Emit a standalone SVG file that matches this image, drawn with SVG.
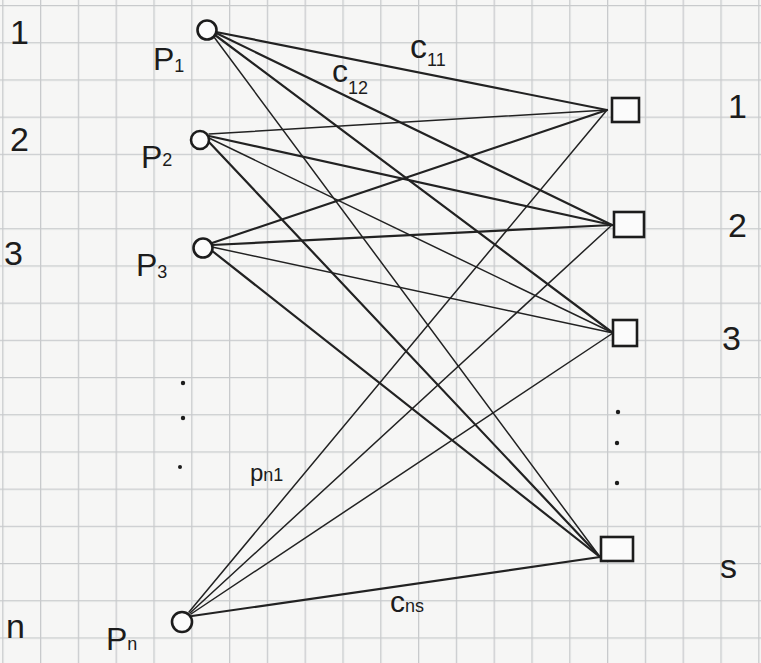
<svg xmlns="http://www.w3.org/2000/svg" width="761" height="663" viewBox="0 0 761 663">
<defs>
<pattern id="grid" x="2.2" y="5" width="37.8" height="37.2" patternUnits="userSpaceOnUse">
<path d="M0 0H37.8M0 0V37.2" fill="none" stroke="#c8cacc" stroke-width="2.6"/>
</pattern>
</defs>
<style>
.hand{font-family:"Liberation Sans","DejaVu Sans",sans-serif;fill:#1c1c1c}
.num{font-size:34px}
.lbl{font-size:32px}
.sub{font-size:18px}
.node{fill:#fbfbfb;stroke:#1c1c1c;stroke-width:2.6}
.edge{stroke:#222;fill:none;stroke-linecap:round}
.w{stroke-width:2.2}
.t{stroke-width:1.5}
.dot{fill:#1c1c1c}
</style>
<rect width="761" height="663" fill="#f6f6f5"/>
<rect width="761" height="663" fill="url(#grid)"/>

<g id="connectors">
<line class="edge w" x1="216" y1="32" x2="607" y2="110"/>
<line class="edge w" x1="216" y1="33" x2="612" y2="225"/>
<line class="edge w" x1="215" y1="35" x2="613" y2="333"/>
<line class="edge t" x1="214" y1="37" x2="600" y2="557"/>
<line class="edge t" x1="209" y1="134" x2="607" y2="110"/>
<line class="edge w" x1="209" y1="136" x2="612" y2="225"/>
<line class="edge t" x1="209" y1="138" x2="613" y2="333"/>
<line class="edge w" x1="208" y1="141" x2="600" y2="557"/>
<line class="edge w" x1="212" y1="243" x2="607" y2="110"/>
<line class="edge w" x1="212" y1="245" x2="612" y2="225"/>
<line class="edge t" x1="212" y1="247" x2="613" y2="333"/>
<line class="edge w" x1="211" y1="250" x2="600" y2="557"/>
<line class="edge t" x1="189" y1="612" x2="607" y2="110"/>
<line class="edge t" x1="190" y1="613" x2="612" y2="225"/>
<line class="edge t" x1="191" y1="614" x2="613" y2="333"/>
<line class="edge w" x1="192" y1="616" x2="600" y2="557"/>
</g>

<g id="p1"><circle class="node" cx="207" cy="30" r="9.5"/>
<text class="hand lbl" x="153" y="70">P<tspan class="sub" dy="2">1</tspan></text></g>
<g id="p2"><circle class="node" cx="200" cy="140" r="9"/>
<text class="hand lbl" x="141" y="168">P<tspan class="sub" dy="-2">2</tspan></text></g>
<g id="p3"><circle class="node" cx="203" cy="248" r="9.5"/>
<text class="hand lbl" x="136" y="276">P<tspan class="sub" dy="2">3</tspan></text></g>
<g id="pn"><circle class="node" cx="182" cy="622" r="10"/>
<text class="hand lbl" x="106" y="650">P<tspan class="sub" dy="0">n</tspan></text></g>

<g id="s1"><rect class="node" x="612" y="98" width="27" height="24"/></g>
<g id="s2"><rect class="node" x="614" y="212" width="30" height="25"/></g>
<g id="s3"><rect class="node" x="613" y="320" width="24" height="26"/></g>
<g id="ss"><rect class="node" x="601" y="537" width="32" height="24"/></g>

<g id="left-index">
<text class="hand num" x="10" y="44">1</text>
<text class="hand num" x="10" y="151">2</text>
<text class="hand num" x="4" y="265">3</text>
<text class="hand num" x="6" y="638">n</text>
</g>
<g id="right-index">
<text class="hand num" x="728" y="118">1</text>
<text class="hand num" x="728" y="237">2</text>
<text class="hand num" x="722" y="350">3</text>
<text class="hand num" x="720" y="578">s</text>
</g>

<g id="dots-left">
<circle class="dot" cx="183" cy="383" r="2.2"/>
<circle class="dot" cx="183" cy="418" r="2.2"/>
<circle class="dot" cx="180" cy="467" r="2"/>
</g>
<g id="dots-right">
<circle class="dot" cx="618" cy="412" r="2.2"/>
<circle class="dot" cx="617" cy="443" r="2.2"/>
<circle class="dot" cx="617" cy="483" r="2.2"/>
</g>

<g id="edge-labels">
<text class="hand" font-size="34" x="410" y="58">c<tspan class="sub" dy="8">11</tspan></text>
<text class="hand" font-size="32" x="332" y="82">c<tspan class="sub" dy="12">12</tspan></text>
<text class="hand" font-size="24" x="250" y="481">p<tspan class="sub" dy="0">n1</tspan></text>
<text class="hand" font-size="30" x="390" y="612">c<tspan class="sub" dy="0">ns</tspan></text>
</g>
</svg>
